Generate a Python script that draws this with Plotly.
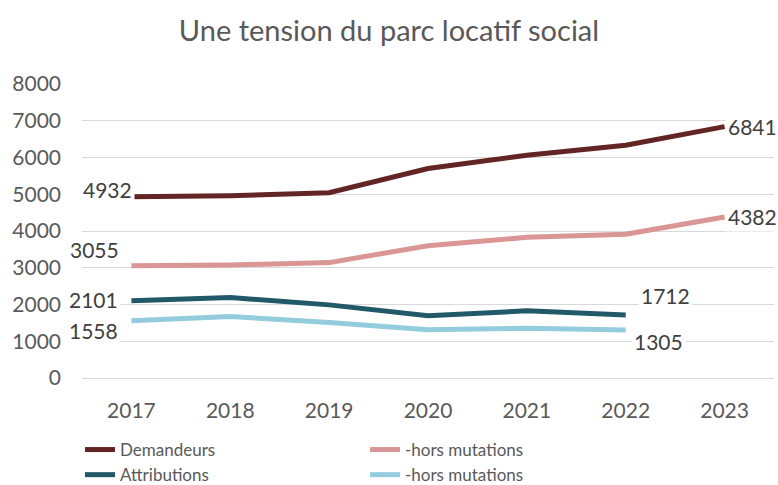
import plotly.graph_objects as go

# Série annuelle du parc locatif social
years = ["2017", "2018", "2019", "2020", "2021", "2022", "2023"]
demandeurs = [4932, 4960, 5040, 5700, 6060, 6335, 6841]
demandeurs_hm = [3055, 3076, 3140, 3600, 3828, 3910, 4382]
attributions = [2101, 2190, 1990, 1692, 1827, 1712]
attributions_hm = [1558, 1673, 1511, 1311, 1357, 1305]

y_ticks = [0, 1000, 2000, 3000, 4000, 5000, 6000, 7000, 8000]

series = [
    ("Demandeurs", demandeurs, "#632523"),
    ("-hors mutations", demandeurs_hm, "#D99694"),
    ("Attributions", attributions, "#215968"),
    ("-hors mutations", attributions_hm, "#93CDDD"),
]

FONT = "Lato"
AXIS_GREY = "#595959"
LABEL_GREY = "#404040"

fig = go.Figure()
for name, vals, color in series:
    fig.add_trace(go.Scatter(
        x=years[:len(vals)], y=vals, name=name, mode="lines",
        line=dict(color=color, width=5),
        hoverinfo="x+y+name",
    ))

# Étiquettes de valeur aux extrémités des séries (décalages en pixels)
label_specs = [
    (demandeurs, 0, -24, 7),
    (demandeurs_hm, 0, -37, 16),
    (attributions, 0, -38, 1),
    (attributions_hm, 0, -38, -10),
    (demandeurs, -1, 28, 0),
    (demandeurs_hm, -1, 28, 0),
    (attributions, -1, 40, 20),
    (attributions_hm, -1, 33, -11),
]
for vals, idx, dx, dy in label_specs:
    i = idx % len(vals)
    fig.add_annotation(
        x=i, y=vals[i], text=str(vals[i]),
        xref="x", yref="y",
        showarrow=False, xshift=dx, yshift=dy,
        bgcolor="white", borderpad=2,
        font=dict(family=FONT, size=21, color=LABEL_GREY),
    )

fig.update_layout(
    width=778, height=485,
    margin=dict(l=82, r=4, t=84, b=107),
    paper_bgcolor="white", plot_bgcolor="white",
    title=dict(
        text="Une tension du parc locatif social",
        x=0.5, xref="container", xanchor="center",
        y=1 - 31 / 485, yref="container", yanchor="middle",
        font=dict(family=FONT, size=29, color=AXIS_GREY),
    ),
    font=dict(family=FONT, color=AXIS_GREY),
    showlegend=True,
    legend=dict(
        orientation="h",
        xref="container", yref="container",
        x=80 / 778, y=1 - 432 / 485,
        xanchor="left", yanchor="top",
        entrywidth=240, entrywidthmode="pixels",
        font=dict(family=FONT, size=17, color=AXIS_GREY),
        bgcolor="rgba(0,0,0,0)",
        traceorder="normal",
    ),
    xaxis=dict(
        type="category", categoryorder="array", categoryarray=years,
        range=[-0.5, len(years) - 0.5],
        showgrid=False, showline=False, zeroline=False,
        ticks="", ticklabelstandoff=18,
        tickfont=dict(family=FONT, size=21, color=AXIS_GREY),
        fixedrange=True,
    ),
    yaxis=dict(
        range=[0, 8000], tickvals=y_ticks,
        showgrid=True, gridcolor="#D9D9D9", gridwidth=1,
        zeroline=True, zerolinecolor="#D9D9D9", zerolinewidth=1,
        showline=False, ticks="", ticklabelstandoff=20,
        tickfont=dict(family=FONT, size=21, color=AXIS_GREY),
        fixedrange=True,
    ),
)

fig.write_html("out.html")
